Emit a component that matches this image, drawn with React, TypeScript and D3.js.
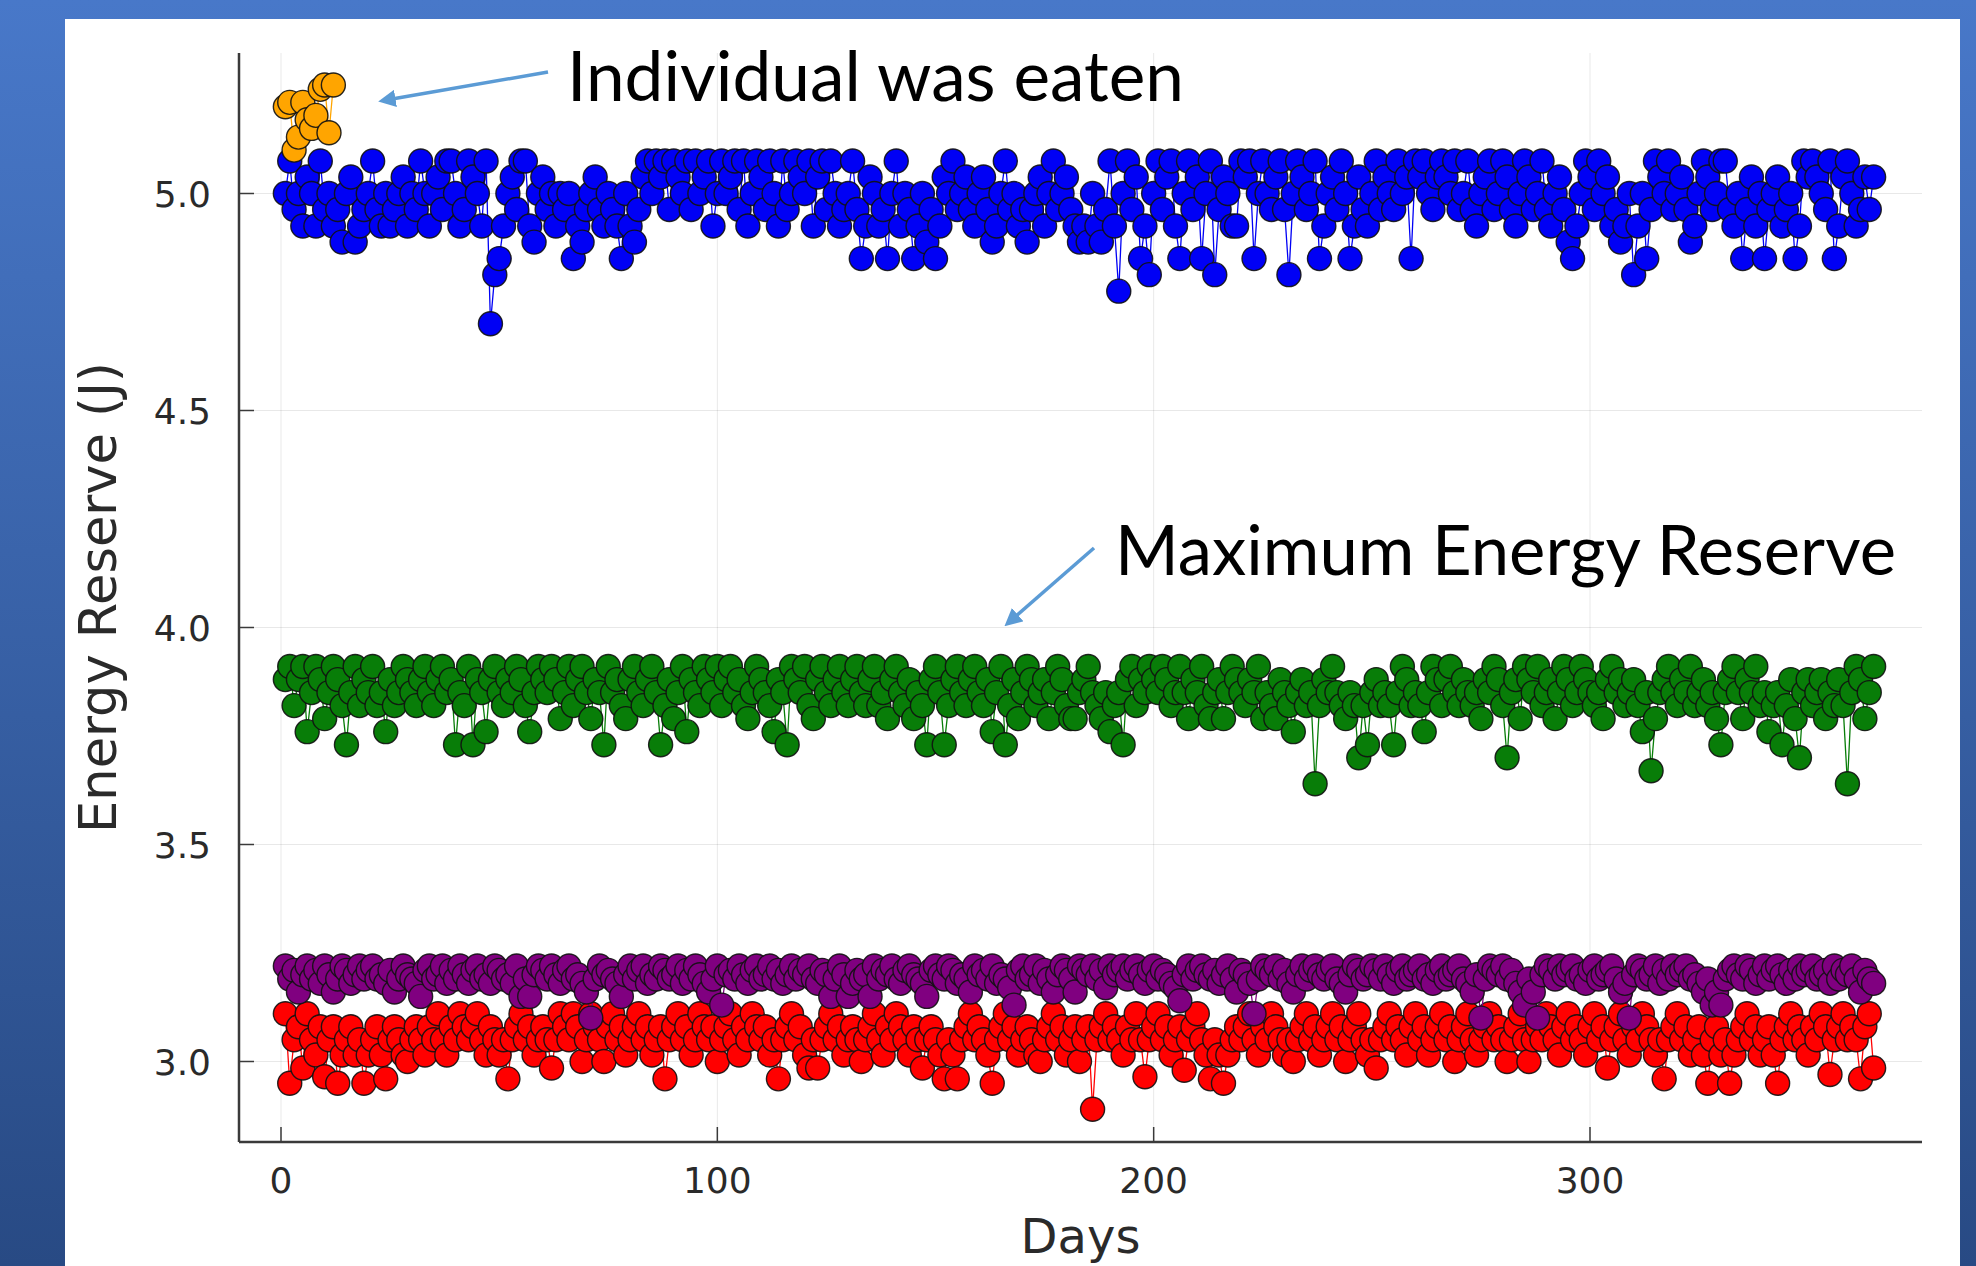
import React from 'react';
import * as d3 from 'd3';

const W = 1976;
const H = 1266;

const xTicks = [0, 100, 200, 300];
const yTicks = [3.0, 3.5, 4.0, 4.5, 5.0];

// Individual that was eaten (days 1..12)
const orangeSeries = [5.2, 5.21, 5.1, 5.13, 5.21, 5.17, 5.15, 5.18, 5.24, 5.25, 5.14, 5.25];

// days 1..365
const blueSeries = [
  5.0, 5.075, 4.963, 5.0, 4.925, 5.038, 5.0, 4.925, 5.075, 4.963,
  5.0, 4.925, 4.963, 4.888, 5.0, 5.038, 4.888, 4.925, 4.963, 5.0,
  5.075, 4.963, 4.925, 5.0, 4.925, 4.963, 5.0, 5.038, 4.925, 5.0,
  4.963, 5.075, 5.0, 4.925, 5.0, 5.038, 4.963, 5.075, 5.075, 5.0,
  4.925, 4.963, 5.075, 5.038, 5.0, 4.925, 5.075, 4.70, 4.813, 4.85,
  4.925, 5.0, 5.038, 4.963, 5.075, 5.075, 4.925, 4.888, 5.0, 5.038,
  4.963, 5.0, 4.925, 5.0, 4.963, 5.0, 4.85, 4.925, 4.888, 4.963,
  5.0, 5.038, 4.963, 4.925, 5.0, 4.963, 4.925, 4.85, 5.0, 4.925,
  4.888, 4.963, 5.038, 5.075, 5.0, 5.075, 5.038, 5.075, 4.963, 5.075,
  5.038, 5.0, 5.075, 4.963, 5.075, 5.0, 5.038, 5.075, 4.925, 5.0,
  5.075, 5.0, 5.038, 5.075, 4.963, 5.075, 4.925, 5.0, 5.075, 5.038,
  4.963, 5.075, 5.0, 4.925, 5.075, 4.963, 5.0, 5.075, 5.038, 5.0,
  5.075, 4.925, 5.038, 5.075, 4.963, 5.075, 5.0, 4.925, 4.963, 5.0,
  5.075, 4.963, 4.85, 4.925, 5.038, 5.0, 4.925, 4.963, 4.85, 5.0,
  5.075, 4.925, 5.0, 4.963, 4.85, 4.925, 5.0, 4.888, 4.963, 4.85,
  4.925, 5.038, 5.0, 5.075, 4.963, 5.0, 5.038, 4.963, 4.925, 5.0,
  5.038, 4.963, 4.888, 4.925, 5.0, 5.075, 4.963, 5.0, 4.925, 4.963,
  4.888, 4.963, 5.0, 5.038, 4.925, 5.0, 5.075, 4.963, 5.0, 5.038,
  4.963, 4.925, 4.888, 4.925, 4.888, 5.0, 4.925, 4.888, 4.963, 5.075,
  4.925, 4.775, 5.0, 5.075, 4.963, 5.038, 4.85, 4.925, 4.813, 5.0,
  5.075, 4.963, 5.038, 5.075, 4.925, 4.85, 5.0, 5.075, 4.963, 5.038,
  4.85, 5.0, 5.075, 4.813, 4.963, 5.038, 5.0, 4.925, 4.925, 5.075,
  5.038, 5.075, 4.85, 5.0, 5.075, 5.0, 4.963, 5.038, 5.075, 4.963,
  4.813, 5.0, 5.075, 5.038, 4.963, 5.0, 5.075, 4.85, 4.925, 5.0,
  5.038, 4.963, 5.075, 5.0, 4.85, 4.925, 5.038, 4.963, 4.925, 5.0,
  5.075, 4.963, 5.038, 5.0, 4.963, 5.075, 5.0, 5.038, 4.85, 5.075,
  5.038, 5.075, 5.0, 4.963, 5.038, 5.075, 5.038, 5.0, 5.075, 4.963,
  5.0, 5.075, 4.963, 4.925, 5.0, 5.038, 5.075, 4.963, 5.0, 5.075,
  5.038, 4.963, 4.925, 5.0, 5.075, 5.038, 4.963, 5.0, 5.075, 4.963,
  4.925, 5.0, 5.038, 4.963, 4.888, 4.85, 4.925, 5.0, 5.075, 5.038,
  4.963, 5.075, 5.0, 5.038, 4.925, 4.963, 4.888, 4.925, 5.0, 4.813,
  4.925, 5.0, 4.85, 4.963, 5.075, 5.038, 5.0, 5.075, 4.963, 5.0,
  5.038, 4.963, 4.888, 4.925, 5.0, 5.075, 5.038, 4.963, 5.0, 5.075,
  5.075, 4.963, 4.925, 5.0, 4.85, 4.963, 5.038, 4.925, 5.0, 4.85,
  4.963, 5.0, 5.038, 4.925, 4.963, 5.0, 4.85, 4.925, 5.075, 5.038,
  5.075, 5.038, 5.0, 4.963, 5.075, 4.85, 4.925, 5.038, 5.075, 5.0,
  4.925, 4.963, 5.038, 4.963, 5.038,
];

const greenSeries = [
  3.88, 3.91, 3.82, 3.88, 3.91, 3.76, 3.85, 3.91, 3.88, 3.79,
  3.85, 3.91, 3.88, 3.82, 3.73, 3.85, 3.91, 3.82, 3.88, 3.85,
  3.91, 3.82, 3.85, 3.76, 3.88, 3.82, 3.85, 3.91, 3.88, 3.85,
  3.82, 3.88, 3.91, 3.85, 3.82, 3.88, 3.91, 3.85, 3.88, 3.73,
  3.85, 3.82, 3.91, 3.73, 3.88, 3.85, 3.76, 3.88, 3.91, 3.85,
  3.82, 3.88, 3.85, 3.91, 3.88, 3.82, 3.76, 3.85, 3.91, 3.88,
  3.85, 3.91, 3.88, 3.79, 3.85, 3.91, 3.82, 3.88, 3.91, 3.85,
  3.79, 3.88, 3.85, 3.73, 3.91, 3.85, 3.88, 3.82, 3.79, 3.88,
  3.91, 3.85, 3.82, 3.88, 3.91, 3.85, 3.73, 3.82, 3.88, 3.79,
  3.85, 3.91, 3.76, 3.88, 3.85, 3.82, 3.91, 3.88, 3.85, 3.91,
  3.82, 3.88, 3.91, 3.85, 3.88, 3.82, 3.79, 3.85, 3.91, 3.88,
  3.85, 3.82, 3.76, 3.88, 3.85, 3.73, 3.91, 3.88, 3.85, 3.91,
  3.82, 3.79, 3.88, 3.91, 3.85, 3.82, 3.88, 3.91, 3.85, 3.82,
  3.88, 3.91, 3.85, 3.82, 3.88, 3.91, 3.82, 3.85, 3.79, 3.88,
  3.91, 3.85, 3.82, 3.88, 3.79, 3.85, 3.82, 3.73, 3.88, 3.91,
  3.85, 3.73, 3.82, 3.88, 3.91, 3.85, 3.82, 3.88, 3.91, 3.85,
  3.82, 3.88, 3.76, 3.85, 3.91, 3.73, 3.82, 3.88, 3.79, 3.85,
  3.91, 3.88, 3.82, 3.85, 3.88, 3.79, 3.85, 3.91, 3.88, 3.82,
  3.79, 3.79, 3.85, 3.88, 3.91, 3.85, 3.82, 3.79, 3.85, 3.76,
  3.82, 3.85, 3.73, 3.88, 3.91, 3.82, 3.88, 3.85, 3.91, 3.88,
  3.85, 3.91, 3.88, 3.82, 3.85, 3.91, 3.85, 3.79, 3.88, 3.85,
  3.91, 3.82, 3.79, 3.85, 3.88, 3.79, 3.85, 3.91, 3.88, 3.85,
  3.82, 3.88, 3.85, 3.91, 3.79, 3.85, 3.82, 3.79, 3.88, 3.85,
  3.82, 3.76, 3.85, 3.88, 3.82, 3.85, 3.64, 3.82, 3.88, 3.85,
  3.91, 3.85, 3.82, 3.79, 3.85, 3.82, 3.70, 3.82, 3.73, 3.85,
  3.88, 3.82, 3.85, 3.82, 3.73, 3.85, 3.91, 3.88, 3.82, 3.85,
  3.82, 3.76, 3.85, 3.91, 3.88, 3.82, 3.88, 3.91, 3.85, 3.82,
  3.88, 3.85, 3.82, 3.85, 3.79, 3.88, 3.85, 3.91, 3.88, 3.82,
  3.70, 3.85, 3.88, 3.79, 3.91, 3.88, 3.85, 3.91, 3.82, 3.85,
  3.88, 3.79, 3.85, 3.91, 3.88, 3.82, 3.85, 3.91, 3.88, 3.85,
  3.82, 3.85, 3.79, 3.88, 3.91, 3.85, 3.88, 3.82, 3.85, 3.88,
  3.82, 3.76, 3.85, 3.67, 3.79, 3.85, 3.88, 3.91, 3.85, 3.82,
  3.88, 3.85, 3.91, 3.82, 3.85, 3.88, 3.82, 3.85, 3.79, 3.73,
  3.85, 3.88, 3.91, 3.85, 3.79, 3.88, 3.85, 3.91, 3.82, 3.85,
  3.76, 3.82, 3.85, 3.73, 3.82, 3.88, 3.79, 3.70, 3.85, 3.88,
  3.82, 3.85, 3.88, 3.79, 3.85, 3.82, 3.88, 3.82, 3.64, 3.85,
  3.91, 3.88, 3.79, 3.85, 3.91,
];

const purpleSeries = [
  3.22, 3.19, 3.21, 3.16, 3.20, 3.22, 3.19, 3.21, 3.18, 3.22,
  3.20, 3.16, 3.19, 3.22, 3.21, 3.18, 3.20, 3.22, 3.19, 3.21,
  3.22, 3.19, 3.20, 3.18, 3.21, 3.16, 3.19, 3.22, 3.20, 3.19,
  3.18, 3.15, 3.21, 3.22, 3.19, 3.20, 3.22, 3.18, 3.21, 3.19,
  3.22, 3.20, 3.18, 3.21, 3.22, 3.19, 3.20, 3.18, 3.22, 3.21,
  3.19, 3.20, 3.18, 3.22, 3.15, 3.19, 3.15, 3.20, 3.22, 3.21,
  3.19, 3.22, 3.20, 3.18, 3.21, 3.22, 3.19, 3.20, 3.18, 3.16,
  3.10, 3.19, 3.22, 3.20, 3.21, 3.19, 3.18, 3.15, 3.20, 3.22,
  3.19, 3.21, 3.22, 3.18, 3.20, 3.19, 3.22, 3.21, 3.19, 3.20,
  3.22, 3.18, 3.21, 3.19, 3.22, 3.20, 3.18, 3.16, 3.19, 3.22,
  3.13, 3.20, 3.21, 3.19, 3.22, 3.20, 3.18, 3.21, 3.22, 3.19,
  3.20, 3.22, 3.19, 3.21, 3.18, 3.20, 3.22, 3.19, 3.21, 3.20,
  3.22, 3.19, 3.18, 3.21, 3.20, 3.15, 3.19, 3.22, 3.20, 3.15,
  3.18, 3.21, 3.19, 3.20, 3.15, 3.22, 3.19, 3.21, 3.20, 3.22,
  3.19, 3.18, 3.21, 3.22, 3.20, 3.19, 3.18, 3.15, 3.21, 3.22,
  3.20, 3.19, 3.22, 3.21, 3.18, 3.20, 3.19, 3.16, 3.22, 3.20,
  3.21, 3.19, 3.22, 3.18, 3.20, 3.19, 3.17, 3.13, 3.21, 3.22,
  3.19, 3.20, 3.22, 3.18, 3.21, 3.19, 3.16, 3.20, 3.22, 3.21,
  3.19, 3.16, 3.22, 3.21, 3.20, 3.22, 3.19, 3.21, 3.17, 3.22,
  3.20, 3.21, 3.22, 3.19, 3.21, 3.22, 3.20, 3.18, 3.21, 3.22,
  3.19, 3.21, 3.20, 3.18, 3.17, 3.14, 3.20, 3.22, 3.19, 3.21,
  3.22, 3.20, 3.19, 3.21, 3.18, 3.20, 3.22, 3.19, 3.16, 3.21,
  3.20, 3.18, 3.11, 3.19, 3.22, 3.21, 3.20, 3.22, 3.19, 3.21,
  3.18, 3.16, 3.20, 3.22, 3.19, 3.21, 3.22, 3.20, 3.19, 3.21,
  3.22, 3.19, 3.18, 3.16, 3.20, 3.22, 3.21, 3.19, 3.20, 3.22,
  3.21, 3.19, 3.22, 3.20, 3.18, 3.21, 3.22, 3.19, 3.20, 3.21,
  3.22, 3.19, 3.20, 3.18, 3.21, 3.22, 3.19, 3.20, 3.21, 3.22,
  3.19, 3.18, 3.16, 3.20, 3.10, 3.19, 3.22, 3.21, 3.20, 3.22,
  3.19, 3.21, 3.18, 3.16, 3.13, 3.19, 3.16, 3.10, 3.20, 3.22,
  3.21, 3.19, 3.22, 3.20, 3.21, 3.22, 3.19, 3.20, 3.18, 3.21,
  3.22, 3.19, 3.20, 3.21, 3.22, 3.19, 3.16, 3.18, 3.10, 3.20,
  3.22, 3.21, 3.19, 3.20, 3.22, 3.18, 3.21, 3.19, 3.22, 3.20,
  3.21, 3.22, 3.19, 3.20, 3.18, 3.16, 3.19, 3.13, 3.16, 3.13,
  3.19, 3.21, 3.22, 3.20, 3.19, 3.22, 3.21, 3.18, 3.20, 3.22,
  3.19, 3.21, 3.22, 3.20, 3.18, 3.21, 3.19, 3.22, 3.20, 3.21,
  3.22, 3.19, 3.20, 3.21, 3.18, 3.22, 3.19, 3.21, 3.20, 3.22,
  3.19, 3.16, 3.21, 3.19, 3.18,
];

const redSeries = [
  3.11, 2.95, 3.05, 3.08, 2.985, 3.11, 3.05, 3.015, 3.08, 2.965,
  3.05, 3.08, 2.95, 3.015, 3.05, 3.08, 3.015, 3.05, 2.95, 3.015,
  3.05, 3.08, 3.015, 2.96, 3.05, 3.08, 3.05, 3.015, 3.0, 3.05,
  3.08, 3.05, 3.015, 3.08, 3.05, 3.11, 3.05, 3.015, 3.08, 3.05,
  3.11, 3.08, 3.05, 3.08, 3.11, 3.05, 3.015, 3.08, 3.05, 3.015,
  3.05, 2.96, 3.05, 3.08, 3.11, 3.05, 3.08, 3.015, 3.05, 3.08,
  3.05, 2.985, 3.05, 3.11, 3.08, 3.05, 3.11, 3.08, 3.0, 3.05,
  3.11, 3.08, 3.05, 3.0, 3.08, 3.11, 3.05, 3.08, 3.015, 3.05,
  3.08, 3.11, 3.05, 3.08, 3.015, 3.05, 3.08, 2.96, 3.05, 3.08,
  3.11, 3.05, 3.08, 3.015, 3.05, 3.11, 3.08, 3.05, 3.08, 3.0,
  3.05, 3.08, 3.11, 3.05, 3.015, 3.08, 3.05, 3.11, 3.08, 3.05,
  3.08, 3.015, 3.05, 2.96, 3.05, 3.08, 3.11, 3.05, 3.08, 3.015,
  2.985, 3.05, 2.985, 3.05, 3.08, 3.11, 3.05, 3.08, 3.015, 3.05,
  3.08, 3.05, 3.0, 3.05, 3.08, 3.11, 3.05, 3.015, 3.08, 3.05,
  3.11, 3.08, 3.05, 3.015, 3.08, 3.05, 2.985, 3.05, 3.08, 3.05,
  3.015, 2.96, 3.05, 3.015, 2.96, 3.05, 3.08, 3.11, 3.05, 3.08,
  3.05, 3.015, 2.95, 3.05, 3.08, 3.11, 3.05, 3.08, 3.015, 3.05,
  3.08, 3.05, 3.015, 3.0, 3.05, 3.08, 3.11, 3.05, 3.08, 3.015,
  3.05, 3.08, 3.0, 3.05, 3.08, 2.89, 3.05, 3.08, 3.11, 3.05,
  3.08, 3.05, 3.015, 3.08, 3.05, 3.11, 3.05, 2.965, 3.05, 3.08,
  3.11, 3.05, 3.08, 3.015, 3.05, 3.08, 2.98, 3.05, 3.08, 3.11,
  3.05, 3.015, 2.96, 3.05, 3.015, 2.95, 3.015, 3.05, 3.08, 3.05,
  3.08, 3.11, 3.05, 3.015, 3.08, 3.05, 3.11, 3.08, 3.05, 3.015,
  3.05, 3.0, 3.05, 3.08, 3.11, 3.05, 3.08, 3.015, 3.05, 3.08,
  3.11, 3.05, 3.08, 3.0, 3.05, 3.08, 3.11, 3.05, 3.015, 3.05,
  2.985, 3.05, 3.08, 3.11, 3.05, 3.08, 3.05, 3.015, 3.08, 3.11,
  3.05, 3.08, 3.015, 3.05, 3.08, 3.11, 3.05, 3.08, 3.0, 3.05,
  3.08, 3.11, 3.05, 3.015, 3.05, 3.08, 3.11, 3.05, 3.08, 3.05,
  3.0, 3.05, 3.08, 3.11, 3.05, 3.0, 3.05, 3.08, 3.05, 3.11,
  3.08, 3.05, 3.015, 3.08, 3.11, 3.05, 3.08, 3.05, 3.015, 3.08,
  3.11, 3.05, 3.08, 2.985, 3.05, 3.08, 3.11, 3.05, 3.015, 3.08,
  3.05, 3.11, 3.08, 3.05, 3.015, 3.05, 2.96, 3.05, 3.08, 3.11,
  3.05, 3.08, 3.015, 3.05, 3.08, 3.015, 2.95, 3.05, 3.08, 3.015,
  3.05, 2.95, 3.015, 3.05, 3.08, 3.11, 3.05, 3.08, 3.015, 3.05,
  3.08, 3.015, 2.95, 3.05, 3.08, 3.11, 3.05, 3.08, 3.05, 3.015,
  3.08, 3.05, 3.11, 3.08, 2.97, 3.05, 3.08, 3.11, 3.05, 3.08,
  3.05, 2.96, 3.08, 3.11, 2.985,
];

const seriesList = [
  { key: 'red', values: redSeries, color: '#ff0000' },
  { key: 'purple', values: purpleSeries, color: '#800080' },
  { key: 'green', values: greenSeries, color: '#087d08' },
  { key: 'blue', values: blueSeries, color: '#0000f5' },
  { key: 'orange', values: orangeSeries, color: '#ffa500' },
];

const AXIS_FONT = '"DejaVu Sans", sans-serif';
const NOTE_FONT = 'Lato, "Open Sans", sans-serif';

export default function App() {
  const left = 239;
  const right = 1922;
  const top = 53;
  const bottom = 1142;

  const x = d3.scaleLinear().domain([0, 300]).range([281, 1590]);
  const y = d3.scaleLinear().domain([3, 5]).range([1061.5, 193.5]);

  const line = d3
    .line<number>()
    .x((_, i) => x(i + 1))
    .y((d) => y(d));

  return (
    <div style={{ position: 'absolute', left: 0, top: 0, width: W, height: H }}>
      <svg width={W} height={H} viewBox={`0 0 ${W} ${H}`} style={{ display: 'block' }}>
        <defs>
          <linearGradient id="bg" x1="0" y1="0" x2="0" y2="1">
            <stop offset="0%" stopColor="#4878c9" />
            <stop offset="100%" stopColor="#284a84" />
          </linearGradient>
          <marker id="arrowHead" viewBox="0 0 10 10" refX="2" refY="5" markerWidth="5" markerHeight="5" orient="auto-start-reverse">
            <path d="M 0 0 L 10 5 L 0 10 z" fill="#5b9bd5" />
          </marker>
        </defs>
        <rect x={0} y={0} width={W} height={H} fill="url(#bg)" />
        <rect x={65} y={19} width={1895} height={H - 19} fill="#ffffff" />

        {/* grid */}
        <g stroke="#000" strokeOpacity={0.09} strokeWidth={1}>
          {xTicks.map((t) => (
            <line key={`gx${t}`} x1={x(t)} x2={x(t)} y1={top} y2={bottom} />
          ))}
          {yTicks.map((t) => (
            <line key={`gy${t}`} x1={left} x2={right} y1={y(t)} y2={y(t)} />
          ))}
        </g>

        {/* series */}
        {seriesList.map((s) => (
          <g key={s.key}>
            <path d={line(s.values) || ''} fill="none" stroke={s.color} strokeWidth={1.3} />
            {s.values.map((v, i) => (
              <circle
                key={i}
                cx={x(i + 1)}
                cy={y(v)}
                r={12}
                fill={s.color}
                stroke="#111"
                strokeOpacity={0.9}
                strokeWidth={1.4}
              />
            ))}
          </g>
        ))}

        {/* axes */}
        <g stroke="#3a3a3a" strokeWidth={2.5}>
          <line x1={left} x2={left} y1={top} y2={bottom} />
          <line x1={left} x2={right} y1={bottom} y2={bottom} />
        </g>
        <g stroke="#3a3a3a" strokeWidth={1.5}>
          {xTicks.map((t) => (
            <line key={`tx${t}`} x1={x(t)} x2={x(t)} y1={bottom} y2={bottom - 15} />
          ))}
          {yTicks.map((t) => (
            <line key={`ty${t}`} x1={left} x2={left + 15} y1={y(t)} y2={y(t)} />
          ))}
        </g>
        <g fontFamily={AXIS_FONT} fontSize={36} fill="#2a2a2a">
          {xTicks.map((t) => (
            <text key={`lx${t}`} x={x(t)} y={1193} textAnchor="middle">
              {String(t)}
            </text>
          ))}
          {yTicks.map((t) => (
            <text key={`ly${t}`} x={211} y={y(t) + 13} textAnchor="end">
              {t.toFixed(1)}
            </text>
          ))}
        </g>
        <text x={(left + right) / 2} y={1253} textAnchor="middle" fontFamily={AXIS_FONT} fontSize={48} fill="#2a2a2a">
          Days
        </text>
        <text
          transform={`translate(116, ${(top + bottom) / 2}) rotate(-90)`}
          textAnchor="middle"
          fontFamily={AXIS_FONT}
          fontSize={51}
          fill="#2a2a2a"
        >
          Energy Reserve (J)
        </text>

        {/* annotations */}
        <line x1={548} y1={72} x2={392} y2={99} stroke="#5b9bd5" strokeWidth={3.5} markerEnd="url(#arrowHead)" />
        <text x={567} y={101} fontFamily={NOTE_FONT} fontSize={70} fill="#000" textLength={617} lengthAdjust="spacingAndGlyphs">
          Individual was eaten
        </text>
        <line x1={1094} y1={548} x2={1015} y2={617} stroke="#5b9bd5" strokeWidth={3.5} markerEnd="url(#arrowHead)" />
        <text x={1115} y={575} fontFamily={NOTE_FONT} fontSize={70} fill="#000" textLength={781} lengthAdjust="spacingAndGlyphs">
          Maximum Energy Reserve
        </text>
      </svg>
    </div>
  );
}
